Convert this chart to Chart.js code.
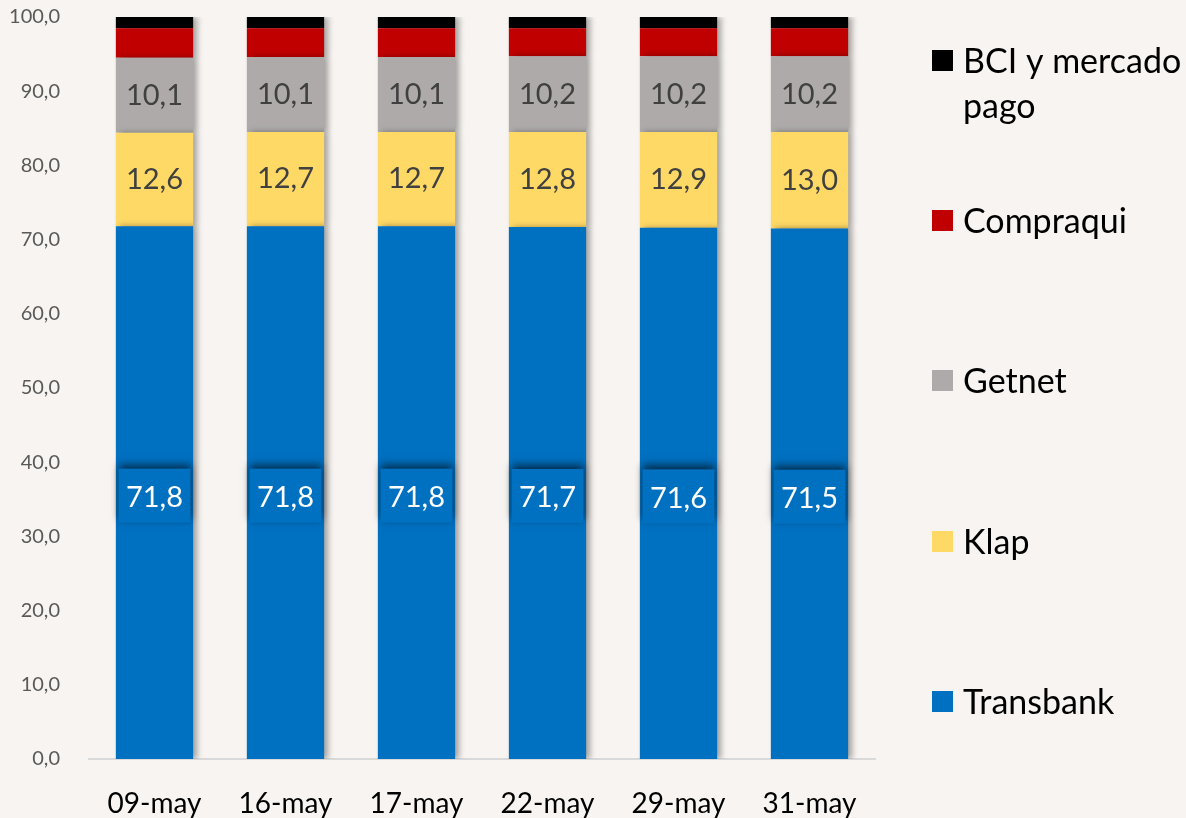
<!DOCTYPE html>
<html>
<head>
<meta charset="utf-8">
<script src="https://cdn.jsdelivr.net/npm/chart.js@4"></script>
<style>
  html, body { margin: 0; padding: 0; background: #f7f4f1; }
  #wrap { width: 1186px; height: 818px; position: relative; }
</style>
</head>
<body>
<div id="wrap"><canvas id="chart"></canvas></div>
<script>
const categories = ["09-may", "16-may", "17-may", "22-may", "29-may", "31-may"];
const transbank = [71.8, 71.8, 71.8, 71.7, 71.6, 71.5];
const klap = [12.6, 12.7, 12.7, 12.8, 12.9, 13.0];
const getnet = [10.1, 10.1, 10.1, 10.2, 10.2, 10.2];
const compraqui = [4.0, 3.9, 3.9, 3.8, 3.8, 3.8];
const bci = [1.5, 1.5, 1.5, 1.5, 1.5, 1.5];
const yTicks = [0, 10, 20, 30, 40, 50, 60, 70, 80, 90, 100];

const FONT = "Lato, 'Open Sans', sans-serif";

function fmt(v) {
    return v.toFixed(1).replace(".", ",");
}

// soft shadow to the right of each bar
const barShadow = {
    id: "barShadow",
    beforeDatasetsDraw(chart) {
        const ctx = chart.ctx;
        ctx.save();
        ctx.shadowColor = "rgba(0,0,0,0.35)";
        ctx.shadowBlur = 6;
        ctx.shadowOffsetX = 4;
        ctx.shadowOffsetY = 0;
    },
    afterDatasetsDraw(chart) {
        chart.ctx.restore();
    }
};

// values written inside the segments
const segmentLabels = {
    id: "segmentLabels",
    afterDatasetsDraw(chart) {
        const ctx = chart.ctx;
        ctx.save();
        ctx.font = "29px " + FONT;
        ctx.textAlign = "center";
        ctx.textBaseline = "middle";
        chart.data.datasets.forEach((ds, i) => {
            if (!ds.showValue) return;
            const meta = chart.getDatasetMeta(i);
            meta.data.forEach((bar, j) => {
                const cy = (bar.y + bar.base) / 2;
                if (ds.label === "Transbank") {
                    // label box with a shadow on its top edge
                    const w = 72, h = 54;
                    ctx.save();
                    ctx.shadowColor = "rgba(0,0,0,0.6)";
                    ctx.shadowBlur = 8;
                    ctx.shadowOffsetY = -4;
                    ctx.fillStyle = ds.backgroundColor;
                    ctx.fillRect(bar.x - w / 2, cy - h / 2 + 3, w, h);
                    ctx.restore();
                    ctx.fillStyle = "#ffffff";
                    ctx.fillText(fmt(ds.data[j]), bar.x, cy + 5);
                } else {
                    ctx.fillStyle = "#404040";
                    ctx.fillText(fmt(ds.data[j]), bar.x, cy);
                }
            });
        });
        ctx.restore();
    }
};

// legend on the right, top entry first, with wrapped text
const sideLegend = {
    id: "sideLegend",
    afterDraw(chart) {
        const ctx = chart.ctx;
        const items = [
            { text: ["BCI y mercado", "pago"], ds: 4, y: 60 },
            { text: ["Compraqui"], ds: 3, y: 220 },
            { text: ["Getnet"], ds: 2, y: 380 },
            { text: ["Klap"], ds: 1, y: 541 },
            { text: ["Transbank"], ds: 0, y: 701 }
        ];
        ctx.save();
        ctx.font = "34px " + FONT;
        ctx.textBaseline = "middle";
        ctx.textAlign = "left";
        items.forEach(it => {
            ctx.fillStyle = chart.data.datasets[it.ds].backgroundColor;
            ctx.fillRect(932, it.y - 10, 21, 21);
            ctx.fillStyle = "#000000";
            it.text.forEach((t, k) => ctx.fillText(t, 963, it.y + 2 + k * 45));
        });
        ctx.restore();
    }
};

new Chart(document.getElementById("chart"), {
    type: "bar",
    data: {
        labels: categories,
        datasets: [
            { label: "Transbank", data: transbank, backgroundColor: "#0070c0", showValue: true },
            { label: "Klap", data: klap, backgroundColor: "#ffd966", showValue: true },
            { label: "Getnet", data: getnet, backgroundColor: "#aeaaaa", showValue: true },
            { label: "Compraqui", data: compraqui, backgroundColor: "#c00000" },
            { label: "BCI y mercado pago", data: bci, backgroundColor: "#000000" }
        ]
    },
    options: {
        responsive: true,
        maintainAspectRatio: false,
        animation: false,
        layout: { padding: { top: 17, right: 311, left: 0, bottom: 0 } },
        datasets: { bar: { barPercentage: 0.59, categoryPercentage: 1.0 } },
        plugins: {
            legend: { display: false },
            tooltip: { enabled: false }
        },
        scales: {
            x: {
                stacked: true,
                grid: { display: false },
                border: { display: true, color: "#d9d9d9", width: 2 },
                ticks: { color: "#000000", font: { family: FONT, size: 28 }, padding: 20 },
                afterFit(s) { s.height = 59; }
            },
            y: {
                stacked: true,
                min: 0,
                max: 100,
                afterBuildTicks(s) { s.ticks = yTicks.map(v => ({ value: v })); },
                grid: { display: false },
                border: { display: false },
                ticks: {
                    color: "#595959",
                    font: { family: FONT, size: 20 },
                    padding: 21,
                    callback: v => fmt(v)
                },
                afterFit(s) {
                    s.width = 89;
                    s.paddingTop = 0;
                    s.paddingBottom = 0;
                }
            }
        }
    },
    plugins: [barShadow, segmentLabels, sideLegend]
});
</script>
</body>
</html>
